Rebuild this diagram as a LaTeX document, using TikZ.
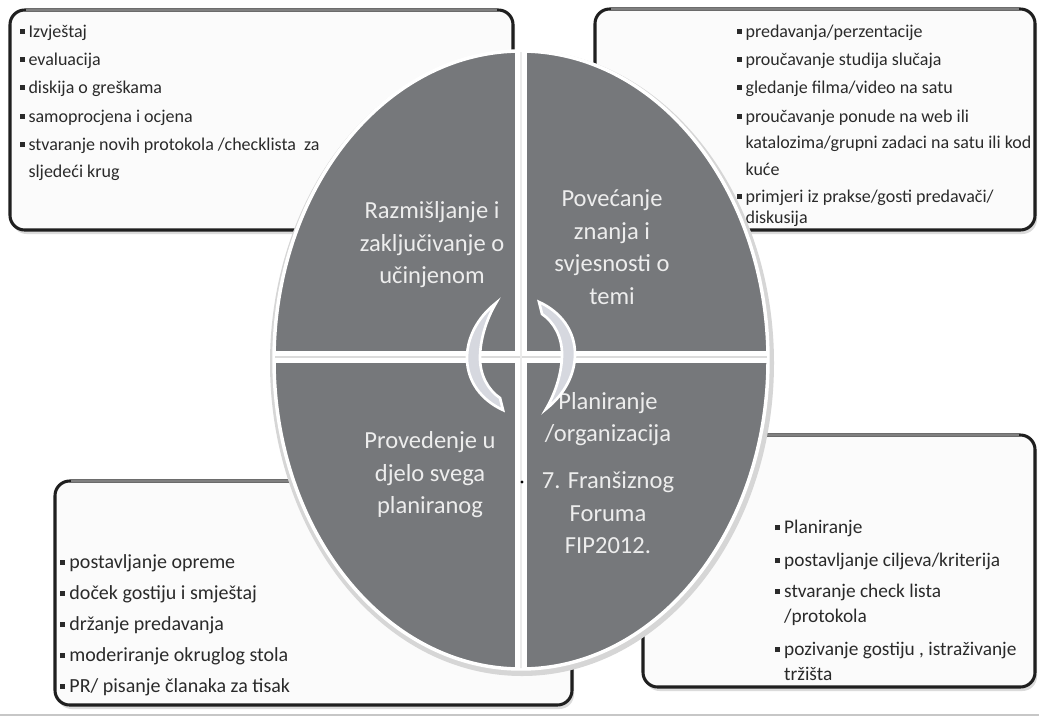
\documentclass[tikz,border=0pt]{standalone}
\usepackage{fontspec}
\setmainfont{Carlito}
\newfontfamily\calfont{Carlito}
\definecolor{quad}{HTML}{76787B}
\definecolor{boxtext}{HTML}{2A2A2A}
\definecolor{qtext}{HTML}{EDEDED}
\definecolor{boxfill}{HTML}{FBFBFB}
\definecolor{arrowfill}{HTML}{D6D8DF}
\newcommand{\bul}{\rule[0.18em]{0.24em}{0.24em}\hspace{0.22em}}
\begin{document}
\begin{tikzpicture}[x=0.75pt,y=-0.75pt,
  boxshadow/.style={fill=black!14,rounded corners=11pt},
  boxbg/.style={fill=boxfill,rounded corners=11pt},
  boxframe/.style={draw=black!88,line width=2.3pt,rounded corners=11pt},
  boxtop/.style={draw=black!50,line width=2pt},
  smalltxt/.style={anchor=base west,inner sep=0pt,text=boxtext,font=\calfont\fontsize{13.5}{17}\selectfont},
  midtxt/.style={anchor=base west,inner sep=0pt,text=boxtext,font=\calfont\fontsize{15}{19}\selectfont},
  midtxtb/.style={anchor=base west,inner sep=0pt,text=boxtext,font=\calfont\fontsize{14.5}{18}\selectfont},
  quadtxt/.style={align=center,inner sep=0pt,text=qtext,font=\calfont\fontsize{18.4}{24.4}\selectfont},
  crescent/.style={fill=arrowfill,draw=white,line width=2pt}]
\useasboundingbox (0,0) rectangle (1039,722);
\fill[white] (0,0) rectangle (1039,722);
\draw[black!22,line width=1.5pt] (0,715) -- (1039,715);

% ---- top-left box
\fill[boxshadow] (12,13) rectangle (515,234);
\fill[boxbg] (10,10) rectangle (513,230);
\node[smalltxt] (tl1) at (20,37) {\bul Izvještaj};
\node[smalltxt] (tl2) at (20,65) {\bul evaluacija};
\node[smalltxt] (tl3) at (20,93) {\bul diskija o greškama};
\node[smalltxt] (tl4) at (20,122) {\bul samoprocjena i ocjena};
\node[smalltxt] (tl5) at (20,150) {\bul stvaranje novih protokola /checklista\ \ za};
\node[smalltxt] (tl6) at (20,177) {\hphantom{\bul}sljedeći krug};
\draw[boxframe] (10,10) rectangle (513,230);
\draw[boxtop] (26,10) -- (497,10);

% ---- top-right box
\fill[boxshadow] (597,12) rectangle (1037,234);
\fill[boxbg] (595,9) rectangle (1035,230);
\node[smalltxt] (tr1) at (737,37) {\bul predavanja/perzentacije};
\node[smalltxt] (tr2) at (737,65) {\bul proučavanje studija slučaja};
\node[smalltxt] (tr3) at (737,93) {\bul gledanje filma/video na satu};
\node[smalltxt] (tr4) at (737,122) {\bul proučavanje ponude na web ili};
\node[smalltxt] (tr5) at (737,148) {\hphantom{\bul}katalozima/grupni zadaci na satu ili kod};
\node[smalltxt] (tr6) at (737,175) {\hphantom{\bul}kuće};
\node[smalltxt] (tr7) at (737,202) {\bul primjeri iz prakse/gosti predavači/};
\node[smalltxt] (tr8) at (737,223) {\hphantom{\bul}diskusija};
\draw[boxframe] (595,9) rectangle (1035,230);
\draw[boxtop] (611,9) -- (1019,9);

% ---- bottom-left box
\fill[boxshadow] (57,484) rectangle (574,709);
\fill[boxbg] (55,481) rectangle (572,705);
\node[midtxt] (bl1) at (60,568.5) {\bul postavljanje opreme};
\node[midtxt] (bl2) at (60,599.5) {\bul doček gostiju i smještaj};
\node[midtxt] (bl3) at (60,630.5) {\bul držanje predavanja};
\node[midtxt] (bl4) at (60,661.5) {\bul moderiranje okruglog stola};
\node[midtxt] (bl5) at (60,692.5) {\bul PR/ pisanje članaka za tisak};
\draw[boxframe] (55,481) rectangle (572,705);
\draw[boxtop] (71,481) -- (556,481);

% ---- bottom-right box
\fill[boxshadow] (645,438) rectangle (1037,691);
\fill[boxbg] (643,435) rectangle (1035,687);
\node[midtxtb] (br1) at (775,533.5) {\bul Planiranje};
\node[midtxtb] (br2) at (775,566.5) {\bul postavljanje ciljeva/kriterija};
\node[midtxtb] (br3) at (775,597.5) {\bul stvaranje check lista};
\node[midtxtb] (br4) at (775,622.5) {\hphantom{\bul}/protokola};
\node[midtxtb] (br5) at (775,655.5) {\bul pozivanje gostiju , istraživanje};
\node[midtxtb] (br6) at (775,680.5) {\hphantom{\bul}tržišta};
\draw[boxframe] (643,435) rectangle (1035,687);
\draw[boxtop] (659,435) -- (1019,435);

% ---- central ellipse
\fill[black!16] (522,363) ellipse [x radius=252, y radius=313];
\fill[quad,draw=white,line width=2.6pt] (521,360) ellipse [x radius=247, y radius=309];
\begin{scope}
  \clip (521,360) ellipse [x radius=246, y radius=308];
  \draw[white,line width=9.5pt] (521,40) -- (521,690);
  \draw[white,line width=9.5pt] (260,357) -- (780,357);
  \draw[black!14,line width=1.2pt] (260,357) -- (780,357);
  \draw[black!8,line width=0.8pt] (521,40) -- (521,690);
\end{scope}

\node[quadtxt] (q1) at (432,245) {Razmišljanje i\\zaključivanje o\\učinjenom};
\node[quadtxt] (q2) at (612,247) {Povećanje\\znanja i\\svjesnosti o\\temi};
\node[quadtxt] (q3) at (430,475) {Provedenje u\\djelo svega\\planiranog};
\node[quadtxt] (q4) at (608,473) {Planiranje\\/organizacija\\[11pt]7. Franšiznog\\Foruma\\FIP2012.};
\fill[black] (522,482) circle [radius=1.6];

% ---- centre arrows
\path[crescent] (496,303) .. controls (477,318) and (467,338) .. (467,358)
  .. controls (467,381) and (481,400) .. (503,410)
  -- (500,398) .. controls (488,390) and (480,375) .. (480,358)
  .. controls (480,340) and (486,320) .. (496,303) -- cycle;
\begin{scope}[rotate around={180:(521,356)}]
\path[crescent] (496,303) .. controls (477,318) and (467,338) .. (467,358)
  .. controls (467,381) and (481,400) .. (503,410)
  -- (500,398) .. controls (488,390) and (480,375) .. (480,358)
  .. controls (480,340) and (486,320) .. (496,303) -- cycle;
\end{scope}
\end{tikzpicture}
\end{document}
